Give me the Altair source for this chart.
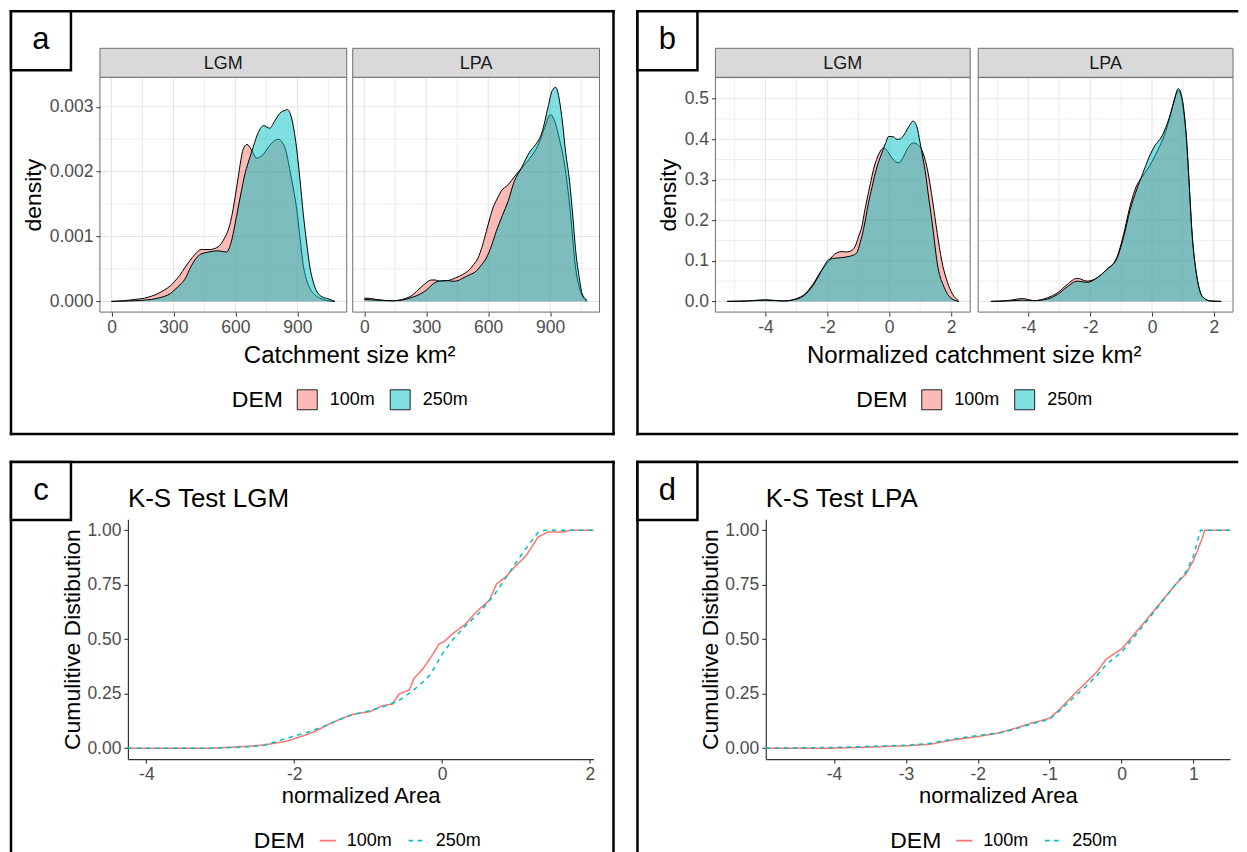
import altair as alt
import pandas as pd

FONT = "Liberation Sans"
PINK = "#F8766D"
TEAL = "#00BFC4"
PINK_HALF = "rgba(248,118,109,0.5)"
TEAL_HALF = "rgba(0,191,196,0.5)"
GRID = "#E9E4E4"
PANEL_LINE = "#6E6E6E"
TICK = "#333333"
LABEL = "#4D4D4D"
DEMS = ["100m", "250m"]
MINUS_FIX = "replace(datum.label, '\u2212', '-')"

# ---------------- a: catchment size (km2) density ----------------
A_LGM_100_X = [0, 60, 113, 160, 193, 225, 258, 285, 306, 330, 355, 380, 403, 435, 476, 516, 548, 565, 581, 597,
               613, 625, 637, 656, 677, 702, 730, 760, 790, 806, 825, 843, 865, 880, 896, 912, 929, 945, 961, 985,
               1009, 1040, 1081]
A_LGM_100_Y = [0, 0.00001, 0.00003, 0.00005, 0.00008, 0.00012, 0.00018, 0.00024, 0.00031, 0.00040,
               0.00052, 0.00063, 0.00072, 0.00080, 0.00080, 0.00084, 0.00098, 0.00110, 0.00129, 0.00158,
               0.00190, 0.00215, 0.00234, 0.00242, 0.00234, 0.00221, 0.00225, 0.00238, 0.00248, 0.00250,
               0.00246, 0.00234, 0.00200, 0.00175, 0.00144, 0.00100, 0.00055, 0.00033, 0.00020, 0.00010,
               0.00005, 0.000015, 0]
A_LGM_250_X = [0, 60, 113, 160, 193, 225, 258, 285, 306, 330, 355, 387, 427, 468, 516, 556, 581, 597, 613, 629,
               645, 661, 677, 693, 710, 737, 766, 790, 815, 843, 851, 870, 896, 912, 929, 945, 961, 977, 993, 1020,
               1050, 1081]
A_LGM_250_Y = [0, 0.000005, 0.00001, 0.00002, 0.00003, 0.00005, 0.00008, 0.00012, 0.00018, 0.00025,
               0.00034, 0.00055, 0.00072, 0.00076, 0.00078, 0.00076, 0.00093, 0.00117, 0.00144, 0.00170,
               0.00195, 0.00213, 0.00229, 0.00245, 0.00260, 0.00271, 0.00267, 0.00278, 0.00290, 0.00295,
               0.00296, 0.00285, 0.00237, 0.00190, 0.00134, 0.00090, 0.00052, 0.00030, 0.00016, 0.00007,
               0.00004, 0]
A_LPA_100_X = [0, 30, 57, 100, 137, 170, 204, 230, 252, 275, 293, 325, 345, 365, 405, 440, 462, 490, 510, 530,
               551, 571, 591, 607, 623, 643, 663, 697, 726, 760, 800, 840, 870, 902, 925, 945, 965, 994, 1023, 1052,
               1079]
A_LPA_100_Y = [0.00005, 0.000045, 0.00003, 0.000015, 0.00001, 0.00002, 0.00005, 0.00009, 0.00015, 0.00022,
               0.00027, 0.00033, 0.00033, 0.00031, 0.00032, 0.00036, 0.00039, 0.00044, 0.00049, 0.00057,
               0.00067, 0.00085, 0.00108, 0.00127, 0.00144, 0.00158, 0.00170, 0.00180, 0.00192, 0.00205,
               0.00220, 0.00240, 0.00265, 0.00288, 0.00275, 0.00250, 0.00220, 0.00150, 0.00052, 0.00011,
               0]
A_LPA_250_X = [0, 30, 57, 100, 137, 180, 220, 255, 285, 310, 333, 357, 381, 405, 430, 454, 478, 510, 543, 567,
               591, 615, 639, 668, 697, 726, 760, 800, 830, 860, 890, 910, 927, 945, 960, 975, 994, 1010, 1023, 1040,
               1052, 1065, 1079]
A_LPA_250_Y = [0.00003, 0.000025, 0.00002, 0.000012, 0.00001, 0.00002, 0.00005, 0.00009, 0.00014, 0.00020,
               0.00027, 0.00031, 0.00032, 0.00032, 0.00031, 0.00032, 0.00036, 0.00041, 0.00047, 0.00056,
               0.00067, 0.00085, 0.00108, 0.00132, 0.00155, 0.00185, 0.00205, 0.00230, 0.00242, 0.00260,
               0.00300, 0.00325, 0.00330, 0.00310, 0.00275, 0.00230, 0.00185, 0.00130, 0.00080, 0.00038,
               0.00015, 0.00006, 0.00002]

# ---------------- b: normalized catchment size density ----------------
B_LGM_100_X = [-5.24, -4.6, -4.0, -3.41, -2.87, -2.7, -2.55, -2.4, -2.28, -2.12, -1.96, -1.83, -1.69, -1.53, -1.37,
               -1.23, -1.10, -0.99, -0.88, -0.80, -0.72, -0.61, -0.51, -0.41, -0.32, -0.18, -0.05, 0.09, 0.2, 0.31,
               0.45, 0.58, 0.70, 0.79, 0.95, 1.1, 1.25, 1.4, 1.55, 1.7, 1.85, 2.0, 2.1, 2.24]
B_LGM_100_Y = [0, 0.001, 0.004, 0.001, 0.011, 0.02, 0.034, 0.05, 0.066, 0.083, 0.099, 0.112, 0.12, 0.123, 0.122,
               0.125, 0.136, 0.16, 0.186, 0.22, 0.251, 0.29, 0.325, 0.35, 0.366, 0.379, 0.37, 0.354, 0.345, 0.342,
               0.355, 0.375, 0.388, 0.391, 0.385, 0.365, 0.32, 0.25, 0.17, 0.1, 0.055, 0.025, 0.012, 0.003]
B_LGM_250_X = [-5.24, -4.6, -4.0, -3.41, -2.87, -2.7, -2.55, -2.4, -2.23, -2.1, -1.96, -1.83, -1.69, -1.53, -1.37,
               -1.2, -1.05, -0.94, -0.83, -0.75, -0.67, -0.56, -0.45, -0.34, -0.24, -0.12, -0.02, 0.14, 0.25, 0.36,
               0.47, 0.58, 0.68, 0.77, 0.9, 0.99, 1.1, 1.18, 1.27, 1.37, 1.46, 1.56, 1.65, 1.75, 1.87, 2.0, 2.26]
B_LGM_250_Y = [0, 0.001, 0.003, 0.001, 0.009, 0.018, 0.03, 0.047, 0.07, 0.088, 0.103, 0.106, 0.107, 0.108, 0.11,
               0.113, 0.12, 0.145, 0.178, 0.21, 0.243, 0.28, 0.317, 0.345, 0.366, 0.39, 0.407, 0.406, 0.4, 0.401,
               0.41, 0.424, 0.437, 0.445, 0.43, 0.395, 0.35, 0.313, 0.26, 0.206, 0.15, 0.091, 0.06, 0.04, 0.02,
               0.008, 0]
B_LPA_100_X = [-5.21, -4.67, -4.19, -3.81, -3.38, -3.06, -2.74, -2.42, -2.1, -1.78, -1.46, -1.14, -0.92, -0.71,
               -0.5, -0.39, -0.2, 0.0, 0.2, 0.4, 0.6, 0.75, 0.85, 0.95, 1.05, 1.11, 1.2, 1.3, 1.43, 1.55, 1.68, 1.9,
               2.24]
B_LPA_100_Y = [0, 0.002, 0.007, 0.002, 0.009, 0.021, 0.042, 0.057, 0.05, 0.058, 0.079, 0.108, 0.165, 0.235,
               0.285, 0.3, 0.32, 0.345, 0.375, 0.41, 0.46, 0.505, 0.52, 0.505, 0.45, 0.4, 0.29, 0.16, 0.07, 0.025,
               0.008, 0.001, 0]
B_LPA_250_X = [-5.21, -4.67, -4.19, -3.81, -3.38, -3.06, -2.74, -2.42, -2.1, -1.78, -1.46, -1.14, -0.92, -0.71,
               -0.5, -0.3, -0.1, 0.1, 0.3, 0.5, 0.7, 0.85, 0.95, 1.05, 1.11, 1.2, 1.3, 1.43, 1.55, 1.68, 1.9, 2.24]
B_LPA_250_Y = [0, 0.001, 0.003, 0.002, 0.006, 0.017, 0.036, 0.05, 0.047, 0.058, 0.079, 0.105, 0.158, 0.225,
               0.275, 0.315, 0.355, 0.385, 0.405, 0.44, 0.49, 0.525, 0.51, 0.46, 0.41, 0.295, 0.165, 0.072, 0.026,
               0.008, 0.001, 0]

# ---------------- c: K-S test LGM (ECDF) ----------------
C_100_X = [-4.25, -3.1, -2.65, -2.42, -2.2, -2.08, -1.95, -1.84, -1.70, -1.57, -1.39, -1.21, -0.98, -0.80, -0.67,
           -0.58, -0.44, -0.38, -0.26, -0.15, -0.04, 0.03, 0.14, 0.32, 0.46, 0.64, 0.74, 0.86, 0.98, 1.14, 1.30,
           1.43, 1.62, 1.75, 2.05]
C_100_Y = [0, 0, 0.008, 0.014, 0.026, 0.034, 0.049, 0.061, 0.08, 0.103, 0.131, 0.155, 0.167, 0.195, 0.202,
           0.248, 0.268, 0.32, 0.363, 0.417, 0.478, 0.489, 0.524, 0.57, 0.624, 0.678, 0.754, 0.785, 0.83, 0.884,
           0.968, 0.991, 0.991, 1.0, 1.0]
C_250_X = [-4.25, -3.1, -2.65, -2.42, -2.2, -2.0, -1.8, -1.6, -1.4, -1.2, -1.0, -0.8, -0.6, -0.45, -0.3, -0.15,
           0.0, 0.15, 0.3, 0.5, 0.7, 0.9, 1.1, 1.3, 1.4, 2.05]
C_250_Y = [0, 0, 0.005, 0.012, 0.035, 0.055, 0.075, 0.1, 0.13, 0.155, 0.17, 0.19, 0.215, 0.25, 0.29, 0.34,
           0.43, 0.5, 0.555, 0.62, 0.7, 0.8, 0.9, 0.99, 1.0, 1.0]

# ---------------- d: K-S test LPA (ECDF) ----------------
D_100_X = [-4.95, -4.0, -2.99, -2.66, -2.34, -2.0, -1.69, -1.46, -1.23, -1.0, -0.86, -0.68, -0.54, -0.35, -0.21,
           0.0, 0.25, 0.5, 0.75, 0.9, 1.0, 1.05, 1.12, 1.16, 1.51]
D_100_Y = [0, 0, 0.011, 0.018, 0.038, 0.053, 0.071, 0.093, 0.117, 0.137, 0.178, 0.24, 0.286, 0.347, 0.409,
           0.455, 0.55, 0.65, 0.75, 0.8, 0.86, 0.9, 0.96, 1.0, 1.0]
D_250_X = [-4.95, -4.0, -3.0, -2.66, -2.34, -2.0, -1.69, -1.46, -1.23, -1.0, -0.86, -0.68, -0.54, -0.35, -0.21,
           0.0, 0.25, 0.5, 0.75, 0.9, 1.0, 1.1, 1.51]
D_250_Y = [0, 0.003, 0.013, 0.022, 0.042, 0.058, 0.07, 0.09, 0.113, 0.133, 0.172, 0.228, 0.27, 0.33, 0.385,
           0.44, 0.54, 0.645, 0.75, 0.81, 0.88, 1.0, 1.0]

# axis tick / grid positions
A_X_MAJOR = [0, 300, 600, 900]
A_X_MINOR = [150, 450, 750, 1050]
A_Y_MAJOR = [0, 0.001, 0.002, 0.003]
A_Y_MINOR = [0.0005, 0.0015, 0.0025]
B_X_MAJOR = [-4, -2, 0, 2]
B_X_MINOR = [-5, -3, -1, 1]
B_Y_MAJOR = [0, 0.1, 0.2, 0.3, 0.4, 0.5]
B_Y_MINOR = [0.05, 0.15, 0.25, 0.35, 0.45, 0.55]
C_X_TICKS = [-4, -2, 0, 2]
D_X_TICKS = [-4, -3, -2, -1, 0, 1]
CD_Y_TICKS = [0, 0.25, 0.5, 0.75, 1.0]

ONE = pd.DataFrame({"k": [0]})
FILL_SCALE = alt.Scale(domain=DEMS, range=[PINK_HALF, TEAL_HALF])
LINE_SCALE = alt.Scale(domain=DEMS, range=[PINK, TEAL])


def series(x, y, dem):
    return pd.DataFrame({"x": x, "y": y, "DEM": dem})


def hrule(x0, x1, y, color="black", width=2.5):
    return alt.Chart(ONE).mark_rule(color=color, strokeWidth=width, strokeCap="square").encode(
        x=alt.value(x0), x2=alt.value(x1), y=alt.value(y))


def vrule(x, y0, y1, color="black", width=2.5):
    return alt.Chart(ONE).mark_rule(color=color, strokeWidth=width, strokeCap="square").encode(
        x=alt.value(x), y=alt.value(y0), y2=alt.value(y1))


def box(x0, x1, y0, y1, fill, stroke, width, fill_opacity=1):
    return alt.Chart(ONE).mark_rect(fill=fill, fillOpacity=fill_opacity, stroke=stroke, strokeWidth=width).encode(
        x=alt.value(x0), x2=alt.value(x1), y=alt.value(y0), y2=alt.value(y1))


def text(t, x, y, size, align="center", baseline="alphabetic", color="black"):
    return alt.Chart(ONE).mark_text(text=t, font=FONT, fontSize=size, align=align, baseline=baseline,
                                    color=color).encode(x=alt.value(x), y=alt.value(y))


def frame_lines(W, H, sides):
    out = []
    if "top" in sides:
        out.append(hrule(0, W, 0))
    if "bottom" in sides:
        out.append(hrule(0, W, H))
    if "left" in sides:
        out.append(vrule(0, 0, H))
    if "right" in sides:
        out.append(vrule(W, 0, H))
    return out


def letter(ch, h=59):
    return [box(0, 60, 0, h, "white", "black", 2.5), text(ch, 30, 38, 31)]


def fill_legend(lx, ly):
    return alt.Legend(title="DEM", orient="none", legendX=lx, legendY=ly, direction="horizontal",
                      titleOrient="left", titleAnchor="middle", titleBaseline="middle", titleFontSize=23,
                      titleFontWeight="normal", titleColor="black", titlePadding=13, titleFont=FONT,
                      labelFontSize=18, labelFont=FONT, labelColor="black", labelOffset=12,
                      symbolType="square", symbolSize=400, symbolStrokeColor="#222222", symbolStrokeWidth=1,
                      columnPadding=12, padding=0)


def line_legend(lx, ly):
    return alt.Legend(title="DEM", orient="none", legendX=lx, legendY=ly, direction="horizontal",
                      titleOrient="left", titleAnchor="middle", titleBaseline="middle", titleFontSize=23,
                      titleFontWeight="normal", titleColor="black", titlePadding=13, titleFont=FONT,
                      labelFontSize=18, labelFont=FONT, labelColor="black", labelOffset=10,
                      symbolType="stroke", symbolSize=260, symbolStrokeWidth=1.6,
                      columnPadding=12, padding=0)


def density_layers(d100, d250, strip_label, xdom, xr, ydom, yr, xmaj, xmin_, ymaj, ymin_, H,
                   yaxis, xlabel_expr, legend):
    """All layers of one facet; every layer carries the same explicit scale (domain + pixel range)."""
    def xs():
        return alt.Scale(domain=xdom, range=xr, nice=False, zero=False)

    def ys():
        return alt.Scale(domain=ydom, range=yr, nice=False, zero=False)

    xkw = dict(values=xmaj, orient="bottom", offset=yr[0] - H, domain=False, grid=False, tickColor=TICK,
               tickSize=4, tickWidth=1, labelFontSize=17.5, labelColor=LABEL, labelPadding=2,
               labelFlush=False, title=None, labelFont=FONT, zindex=2)
    if xlabel_expr:
        xkw["labelExpr"] = xlabel_expr
    xaxis = alt.Axis(**xkw)

    def vgrid(vals, w):
        return alt.Chart(pd.DataFrame({"v": vals})).mark_rule(color=GRID, strokeWidth=w).encode(
            x=alt.X("v:Q", scale=xs(), axis=None), y=alt.value(yr[1]), y2=alt.value(yr[0]))

    def hgrid(vals, w):
        return alt.Chart(pd.DataFrame({"v": vals})).mark_rule(color=GRID, strokeWidth=w).encode(
            y=alt.Y("v:Q", scale=ys(), axis=None), x=alt.value(xr[0]), x2=alt.value(xr[1]))

    a100 = alt.Chart(d100).mark_area(interpolate="monotone").encode(
        x=alt.X("x:Q", scale=xs(), axis=xaxis),
        y=alt.Y("y:Q", scale=ys(), axis=yaxis, stack=None),
        color=alt.Color("DEM:N", scale=FILL_SCALE, legend=legend))
    l100 = alt.Chart(d100).mark_line(color="black", strokeWidth=1, interpolate="monotone").encode(
        x=alt.X("x:Q", scale=xs(), axis=None), y=alt.Y("y:Q", scale=ys(), axis=None))
    a250 = alt.Chart(d250).mark_area(interpolate="monotone").encode(
        x=alt.X("x:Q", scale=xs(), axis=None),
        y=alt.Y("y:Q", scale=ys(), axis=None, stack=None),
        color=alt.Color("DEM:N", scale=FILL_SCALE, legend=None))
    l250 = alt.Chart(d250).mark_line(color="black", strokeWidth=1, interpolate="monotone").encode(
        x=alt.X("x:Q", scale=xs(), axis=None), y=alt.Y("y:Q", scale=ys(), axis=None))
    border = box(xr[0], xr[1], yr[1], yr[0], "white", PANEL_LINE, 1, fill_opacity=0)
    strip = box(xr[0], xr[1], 37, yr[1], "#D9D9D9", PANEL_LINE, 1)
    strip_txt = text(strip_label, (xr[0] + xr[1]) / 2, (37 + yr[1]) / 2 + 1, 18, baseline="middle",
                     color="#1A1A1A")
    return [vgrid(xmin_, 0.7), hgrid(ymin_, 0.7), vgrid(xmaj, 1.1), hgrid(ymaj, 1.1),
            a100, l100, a250, l250, border, strip, strip_txt]


def y_axis_density(vals, fmt, offset, pad):
    return alt.Axis(values=vals, format=fmt, orient="left", offset=offset, domain=False, grid=False,
                    tickColor=TICK, tickSize=4, tickWidth=1, labelFontSize=17.5, labelColor=LABEL,
                    labelPadding=3, labelFlush=False, title="density", titleFontSize=23,
                    titleFontWeight="normal", titleColor="black", titlePadding=pad,
                    labelFont=FONT, titleFont=FONT, zindex=2)


W_LEFT, W_RIGHT = 603, 600
H_TOP, H_BOT = 423, 398
Y_RANGE_TOP = [301, 66]

# ---------- frame a ----------
A_XDOM = [-56, 1139]
A_YDOM = [-0.000165, 0.003455]
a_lgm = density_layers(series(A_LGM_100_X, A_LGM_100_Y, "100m"), series(A_LGM_250_X, A_LGM_250_Y, "250m"),
                       "LGM", A_XDOM, [89, 336], A_YDOM, Y_RANGE_TOP, A_X_MAJOR, A_X_MINOR, A_Y_MAJOR,
                       A_Y_MINOR, H_TOP, y_axis_density(A_Y_MAJOR, ".3f", -89, 4), None, fill_legend(221, 378))
a_lpa = density_layers(series(A_LPA_100_X, A_LPA_100_Y, "100m"), series(A_LPA_250_X, A_LPA_250_Y, "250m"),
                       "LPA", A_XDOM, [342, 589], A_YDOM, Y_RANGE_TOP, A_X_MAJOR, A_X_MINOR, A_Y_MAJOR,
                       A_Y_MINOR, H_TOP, None, None, None)
frameA = alt.layer(
    *a_lgm, *a_lpa,
    text("Catchment size km\u00b2", 339, 352, 24),
    *frame_lines(W_LEFT, H_TOP, ["top", "bottom", "left", "right"]),
    *letter("a"),
).resolve_scale(x="independent", y="independent").resolve_axis(
    x="independent", y="independent").properties(width=W_LEFT, height=H_TOP)

# ---------- frame b ----------
B_XDOM = [-5.62, 2.62]
B_YDOM = [-0.0264, 0.553]
b_lgm = density_layers(series(B_LGM_100_X, B_LGM_100_Y, "100m"), series(B_LGM_250_X, B_LGM_250_Y, "250m"),
                       "LGM", B_XDOM, [78, 333], B_YDOM, Y_RANGE_TOP, B_X_MAJOR, B_X_MINOR, B_Y_MAJOR,
                       B_Y_MINOR, H_TOP, y_axis_density(B_Y_MAJOR, ".1f", -78, 4), MINUS_FIX,
                       fill_legend(219, 378))
b_lpa = density_layers(series(B_LPA_100_X, B_LPA_100_Y, "100m"), series(B_LPA_250_X, B_LPA_250_Y, "250m"),
                       "LPA", B_XDOM, [341, 596], B_YDOM, Y_RANGE_TOP, B_X_MAJOR, B_X_MINOR, B_Y_MAJOR,
                       B_Y_MINOR, H_TOP, None, MINUS_FIX, None)
frameB = alt.layer(
    *b_lgm, *b_lpa,
    text("Normalized catchment size km\u00b2", 337, 352, 24),
    *frame_lines(W_RIGHT, H_TOP, ["top", "bottom", "left"]),
    *letter("b"),
).resolve_scale(x="independent", y="independent").resolve_axis(
    x="independent", y="independent").properties(width=W_RIGHT, height=H_TOP)


# ---------- ECDF frames ----------
def ecdf_frame(ch, title, d, xdom, xr, xvals, ytitle_pad, lx, W, sides):
    yr = [297.3, 57.3]
    xs = alt.Scale(domain=xdom, range=xr, nice=False, zero=False)
    ys = alt.Scale(domain=[-0.05, 1.05], range=yr, nice=False, zero=False)
    xaxis = alt.Axis(values=xvals, orient="bottom", offset=yr[0] - H_BOT, domain=True, domainColor=TICK,
                     domainWidth=1.2, grid=False, tickColor=TICK, tickSize=4, tickWidth=1.1,
                     labelFontSize=17.5, labelColor=LABEL, labelPadding=2, labelFlush=False,
                     labelExpr=MINUS_FIX, title="normalized Area", titleFontSize=22,
                     titleFontWeight="normal", titleColor="black", titlePadding=3,
                     labelFont=FONT, titleFont=FONT)
    yaxis = alt.Axis(values=CD_Y_TICKS, format=".2f", orient="left", offset=-xr[0], domain=True,
                     domainColor=TICK, domainWidth=1.2, grid=False, tickColor=TICK, tickSize=4,
                     tickWidth=1.1, labelFontSize=17.5, labelColor=LABEL, labelPadding=3, labelFlush=False,
                     title="Cumulitive Distibution", titleFontSize=23, titleFontWeight="normal",
                     titleColor="black", titlePadding=ytitle_pad, labelFont=FONT, titleFont=FONT)
    leg = line_legend(lx, 370)
    lines = alt.Chart(d).mark_line(strokeWidth=1.5).encode(
        x=alt.X("x:Q", scale=xs, axis=xaxis),
        y=alt.Y("y:Q", scale=ys, axis=yaxis),
        color=alt.Color("DEM:N", scale=LINE_SCALE, legend=leg),
        strokeDash=alt.StrokeDash("DEM:N", scale=alt.Scale(domain=DEMS, range=[[1, 0], [4.5, 4.5]]),
                                  legend=leg),
    )
    return alt.layer(
        lines,
        text(title, xr[0], 44.7, 26, align="left"),
        *frame_lines(W, H_BOT, sides),
        *letter(ch, 58),
    ).properties(width=W, height=H_BOT)


c_data = pd.concat([series(C_100_X, C_100_Y, "100m"), series(C_250_X, C_250_Y, "250m")])
d_data = pd.concat([series(D_100_X, D_100_Y, "100m"), series(D_250_X, D_250_Y, "250m")])
frameC = ecdf_frame("c", "K-S Test LGM", c_data, [-4.25, 2.05], [117, 583], C_X_TICKS, 2, 243, W_LEFT,
                    ["top", "left", "right"])
frameD = ecdf_frame("d", "K-S Test LPA", d_data, [-4.95, 1.51], [128.4, 593], D_X_TICKS, 2, 253, W_RIGHT,
                    ["top", "left"])

chart = alt.concat(
    frameA, frameB, frameC, frameD, columns=2, spacing={"row": 28, "column": 24}, bounds="flush"
).resolve_scale(
    color="independent", strokeDash="independent"
).properties(
    padding={"left": 1, "top": 1, "right": 0, "bottom": 0}
).configure(font=FONT).configure_view(stroke=None)

chart.save("out.html", embed_options={"renderer": "svg", "actions": False})
